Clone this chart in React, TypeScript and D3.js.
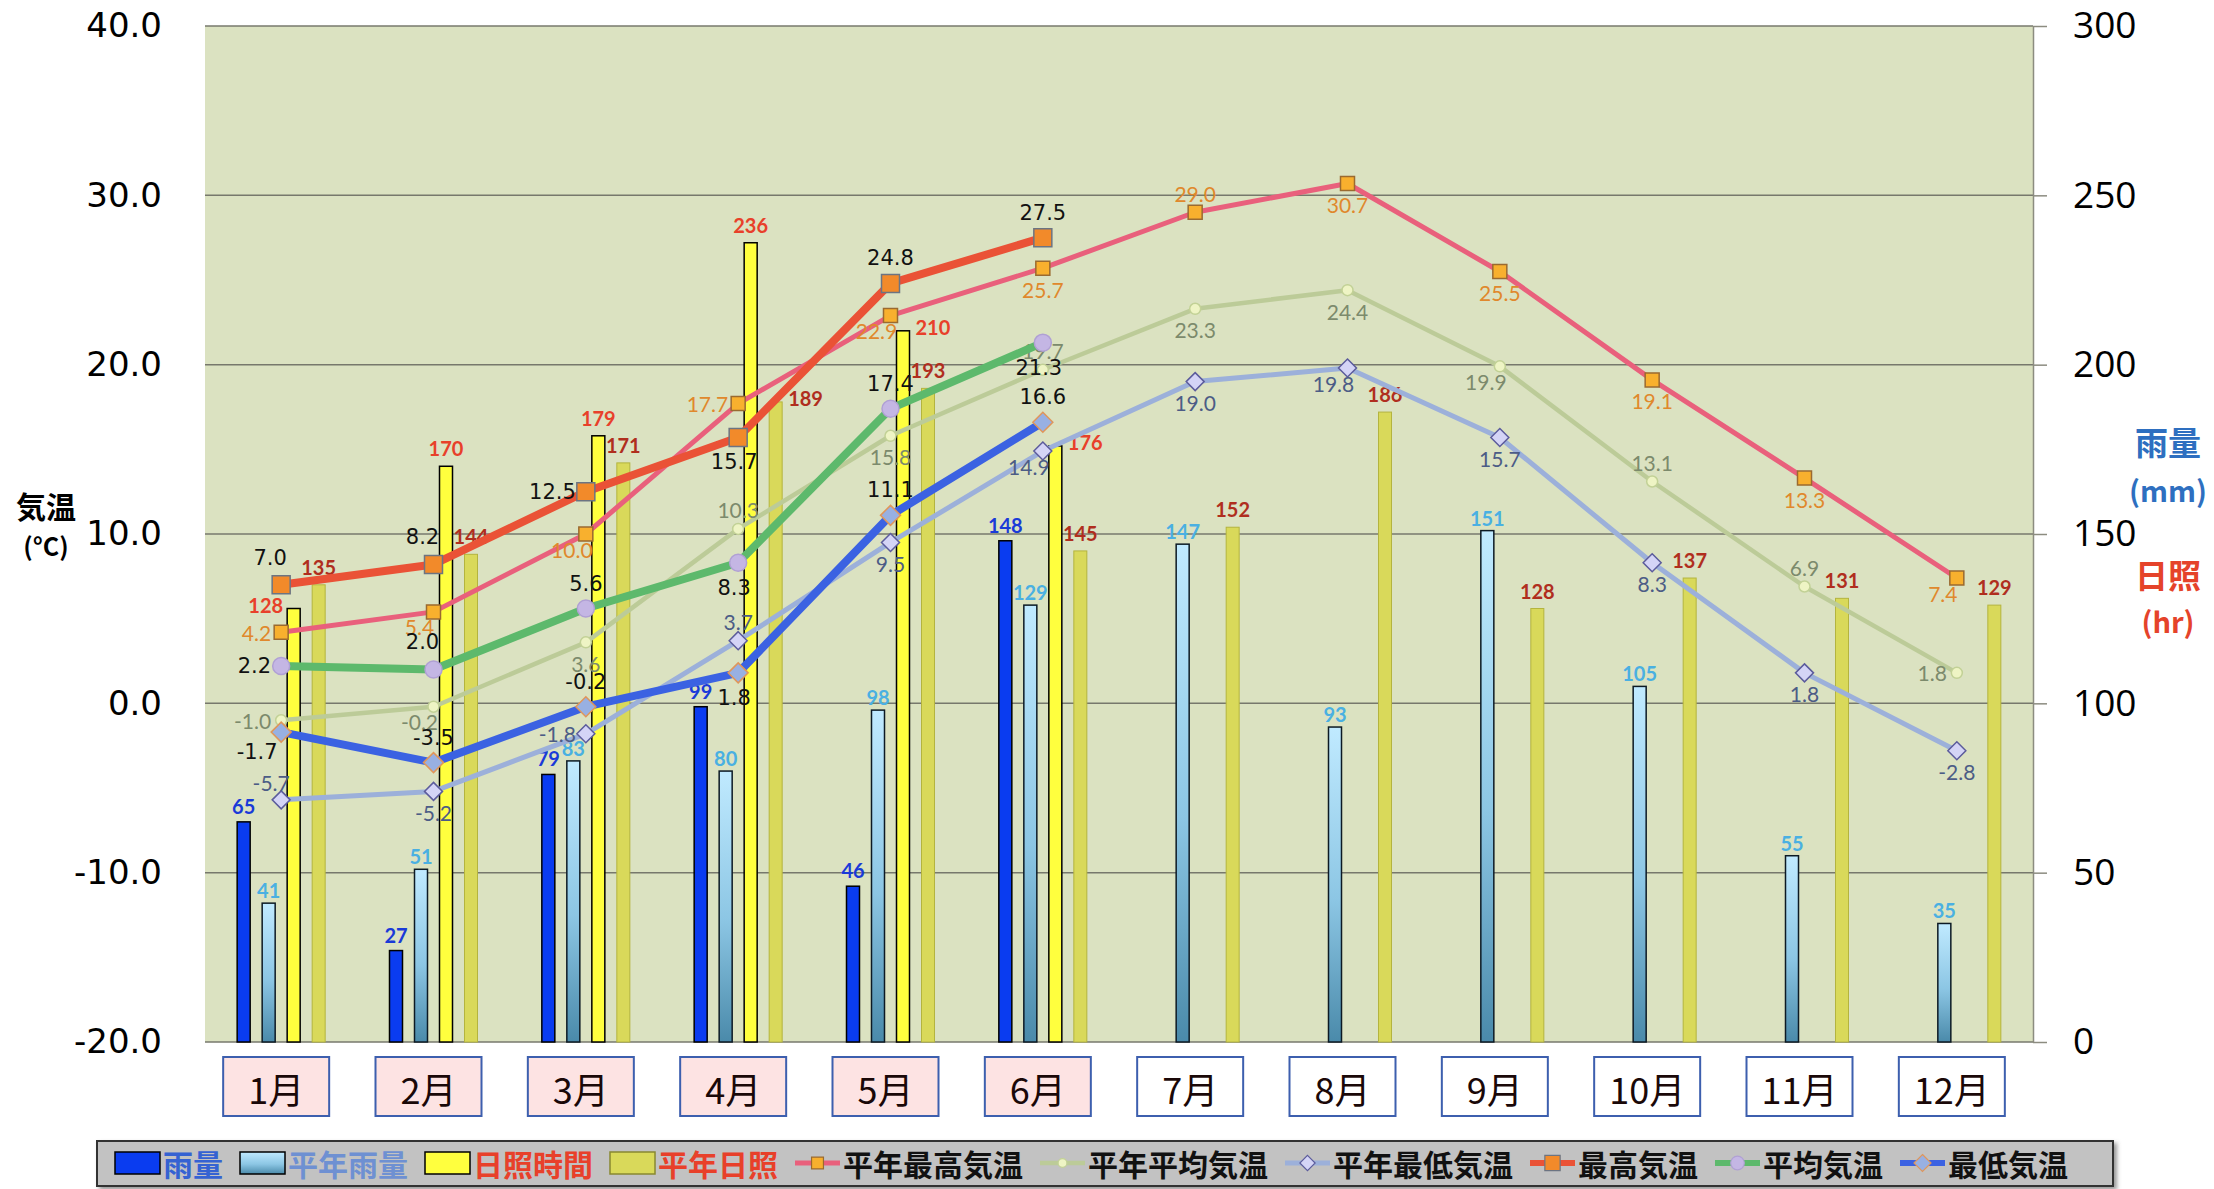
import { useEffect, useRef } from "react";
import * as d3 from "d3";

// ---- data ----
const months = ["1月", "2月", "3月", "4月", "5月", "6月", "7月", "8月", "9月", "10月", "11月", "12月"];

const rain = [65, 27, 79, 99, 46, 148];
const rainNormal = [41, 51, 83, 80, 98, 129, 147, 93, 151, 105, 55, 35];
const sun = [128, 170, 179, 236, 210, 176];
const sunNormal = [135, 144, 171, 189, 193, 145, 152, 186, 128, 137, 131, 129];

const highNormal = [4.2, 5.4, 10.0, 17.7, 22.9, 25.7, 29.0, 30.7, 25.5, 19.1, 13.3, 7.4];
const meanNormal = [-1.0, -0.2, 3.6, 10.3, 15.8, 19.7, 23.3, 24.4, 19.9, 13.1, 6.9, 1.8];
const lowNormal = [-5.7, -5.2, -1.8, 3.7, 9.5, 14.9, 19.0, 19.8, 15.7, 8.3, 1.8, -2.8];
const high = [7.0, 8.2, 12.5, 15.7, 24.8, 27.5];
const mean = [2.2, 2.0, 5.6, 8.3, 17.4, 21.3];
const low = [-1.7, -3.5, -0.2, 1.8, 11.1, 16.6];

const tempTicks = [-20, -10, 0, 10, 20, 30, 40];
const amountTicks = [0, 50, 100, 150, 200, 250, 300];

// where each value label sits relative to its point
const highNormalPos = ["l", "bl", "bl", "l", "bl", "b", "t", "b", "b", "b", "b", "bl"];
const meanNormalPos = ["l", "bl", "b", "t", "b", "t", "b", "b", "bl", "t", "t", "l"];
const lowNormalPos = ["tl", "b", "l", "t", "b", "bl", "b", "bl", "b", "b", "b", "b"];
const highPos = ["tl", "tl", "l", "b", "t", "t"];
const meanPos = ["l", "tl", "t", "b", "t", "b"];
const lowPos = ["bl", "t", "t", "b", "t", "t"];
const sunPos = ["l", "t", "t", "t", "r", "r"];
const sunNormalPos = ["t", "t", "t", "r", "t", "t", "t", "t", "t", "t", "t", "t"];

const W = 2214;
const H = 1189;

type Marker = "square" | "circle" | "diamond";

const markerPath = (shape: Marker, s: number) => {
  if (shape === "square") return `M${-s},${-s}H${s}V${s}H${-s}Z`;
  if (shape === "diamond") return `M0,${-s}L${s},0L0,${s}L${-s},0Z`;
  return d3.arc()({ innerRadius: 0, outerRadius: s, startAngle: 0, endAngle: Math.PI * 2 }) as string;
};

// label offsets [dx, dy] for small coloured labels and bigger black ones
const offColour: Record<string, number[]> = { t: [0, -19], b: [0, 21], l: [-10, 0], r: [12, 0], tl: [-10, -17], bl: [-14, 15] };
const offBlack: Record<string, number[]> = { t: [0, -25], b: [-4, 25], l: [-10, 0], r: [12, 0], tl: [-11, -27], bl: [-24, 20] };

const lineSeries = [
  { key: "highNormal", name: "平年最高気温", data: highNormal, pos: highNormalPos, color: "#e9607c", width: 5, shape: "square" as Marker, size: 7, fill: "#f8b02e", stroke: "#9a6a30", label: "#e0882c", font: "Lato", fs: 21, black: false },
  { key: "meanNormal", name: "平年平均気温", data: meanNormal, pos: meanNormalPos, color: "#bccb98", width: 4.5, shape: "circle" as Marker, size: 5.5, fill: "#eef4c4", stroke: "#c2d196", label: "#7c8a6c", font: "Lato", fs: 21, black: false },
  { key: "lowNormal", name: "平年最低気温", data: lowNormal, pos: lowNormalPos, color: "#9cb0da", width: 5, shape: "diamond" as Marker, size: 9, fill: "#d4d4f6", stroke: "#5c5c9c", label: "#4c5c86", font: "Lato", fs: 21, black: false },
  { key: "high", name: "最高気温", data: high, pos: highPos, color: "#ea5236", width: 8, shape: "square" as Marker, size: 9, fill: "#f28a2a", stroke: "#6c7482", label: "#111", font: "DejaVu Sans", fs: 21, black: true },
  { key: "mean", name: "平均気温", data: mean, pos: meanPos, color: "#5db96c", width: 8, shape: "circle" as Marker, size: 8.5, fill: "#c4b6e4", stroke: "#b0a0d4", label: "#111", font: "DejaVu Sans", fs: 21, black: true },
  { key: "low", name: "最低気温", data: low, pos: lowPos, color: "#3b62e2", width: 8, shape: "diamond" as Marker, size: 10, fill: "#98b0e2", stroke: "#e0965a", label: "#111", font: "DejaVu Sans", fs: 21, black: true },
];

const App = () => {
  const svgRef = useRef<SVGSVGElement>(null);

  useEffect(() => {
    const svg = d3.select(svgRef.current);
    svg.selectAll("*").remove();

    const plot = { left: 205, right: 2033, top: 26, bottom: 1042 };

    const x = d3.scaleBand<string>().domain(months).range([plot.left, plot.right]);
    const cx = (i: number) => (x(months[i]) as number) + x.bandwidth() / 2;
    const yT = d3.scaleLinear().domain([-20, 40]).range([plot.bottom, plot.top]);
    const yA = d3.scaleLinear().domain([0, 300]).range([plot.bottom, plot.top]);
    const xBar = d3.scaleBand<string>()
      .domain(["rain", "rainNormal", "sun", "sunNormal"])
      .range([-50, 50])
      .paddingInner(0.48)
      .paddingOuter(0.24);

    const defs = svg.append("defs");
    const grad = defs.append("linearGradient").attr("id", "rainNormalGrad")
      .attr("x1", 0).attr("y1", 0).attr("x2", 0).attr("y2", 1);
    grad.append("stop").attr("offset", "0%").attr("stop-color", "#c0eaff");
    grad.append("stop").attr("offset", "55%").attr("stop-color", "#8cc6e4");
    grad.append("stop").attr("offset", "100%").attr("stop-color", "#4a8aaa");
    const shadow = defs.append("filter").attr("id", "legendShadow");
    shadow.append("feDropShadow").attr("dx", 3).attr("dy", 3).attr("stdDeviation", 2).attr("flood-color", "#555").attr("flood-opacity", 0.6);

    // plot background
    svg.append("rect")
      .attr("x", plot.left).attr("y", plot.top)
      .attr("width", plot.right - plot.left).attr("height", plot.bottom - plot.top)
      .attr("fill", "#dbe2c1");

    // grid lines
    svg.append("g").selectAll("line").data(tempTicks).enter().append("line")
      .attr("x1", plot.left).attr("x2", plot.right)
      .attr("y1", (d) => yT(d)).attr("y2", (d) => yT(d))
      .attr("stroke", "#77786c").attr("stroke-width", 1.5);

    // left axis (temperature)
    const left = svg.append("g")
      .attr("transform", `translate(${plot.left},0)`)
      .call(d3.axisLeft(yT).tickValues(tempTicks).tickSize(0).tickPadding(43).tickFormat((d: any) => (+d).toFixed(1)));
    left.select(".domain").remove();
    left.selectAll("text")
      .style("font-family", "DejaVu Sans")
      .style("font-size", "34px")
      .attr("fill", "#000");

    // right axis (mm / hr)
    const right = svg.append("g")
      .attr("transform", `translate(${plot.right},0)`)
      .call(d3.axisRight(yA).tickValues(amountTicks).tickSize(14).tickSizeOuter(0).tickPadding(26));
    right.select(".domain").attr("stroke", "#8c8c80").attr("stroke-width", 1.5);
    right.selectAll(".tick line").attr("stroke", "#8c8c80").attr("stroke-width", 1.5);
    right.selectAll("text")
      .style("font-family", "Open Sans")
      .style("font-size", "37px")
      .attr("fill", "#000");

    // axis titles
    const titleL = svg.append("g").style("font-family", "Noto Sans CJK JP").style("font-weight", 700).attr("text-anchor", "middle");
    titleL.append("text").attr("x", 46).attr("y", 505).attr("dominant-baseline", "central").style("font-size", "30px").text("気温");
    titleL.append("text").attr("x", 46).attr("y", 545).attr("dominant-baseline", "central").style("font-size", "25px").text("(°C)");

    const titleR = svg.append("g").style("font-family", "Noto Sans CJK JP").style("font-weight", 700).attr("text-anchor", "middle");
    titleR.append("text").attr("x", 2168).attr("y", 441).attr("dominant-baseline", "central").style("font-size", "33px").attr("fill", "#2e6fc0").text("雨量");
    titleR.append("text").attr("x", 2168).attr("y", 489).attr("dominant-baseline", "central").style("font-size", "29px").attr("fill", "#2e6fc0").text("(mm)");
    titleR.append("text").attr("x", 2168).attr("y", 574).attr("dominant-baseline", "central").style("font-size", "33px").attr("fill", "#e5432a").text("日照");
    titleR.append("text").attr("x", 2168).attr("y", 620).attr("dominant-baseline", "central").style("font-size", "29px").attr("fill", "#e5432a").text("(hr)");

    // bars
    const barSeries = [
      { key: "rain", data: rain, fill: "#0a3cf0", stroke: "#000", sw: 1.5, label: "#1a3ad8", pos: rain.map(() => "t"), gap: 16 },
      { key: "rainNormal", data: rainNormal, fill: "url(#rainNormalGrad)", stroke: "#0c1a24", sw: 1.5, label: "#4ab0e2", pos: rainNormal.map(() => "t"), gap: 13 },
      { key: "sun", data: sun, fill: "#ffff3e", stroke: "#000", sw: 1.5, label: "#e8402a", pos: sunPos, gap: 18 },
      { key: "sunNormal", data: sunNormal, fill: "#d9d95a", stroke: "#b4b43e", sw: 1, label: "#b02e1e", pos: sunNormalPos, gap: 18 },
    ];

    const barG = svg.append("g");
    barSeries.forEach((s) => {
      const bx = (i: number) => cx(i) + (xBar(s.key) as number);
      barG.append("g").selectAll("rect").data(s.data).enter().append("rect")
        .attr("x", (_, i) => bx(i))
        .attr("y", (d) => yA(d))
        .attr("width", xBar.bandwidth())
        .attr("height", (d) => yA(0) - yA(d))
        .attr("fill", s.fill)
        .attr("stroke", s.stroke)
        .attr("stroke-width", s.sw);

      barG.append("g").selectAll("text").data(s.data).enter().append("text")
        .attr("x", (_, i) => {
          const p = s.pos[i];
          const mid = bx(i) + xBar.bandwidth() / 2;
          if (p === "l") return bx(i) - 4;
          if (p === "r") return bx(i) + xBar.bandwidth() + 6;
          return mid;
        })
        .attr("y", (d, i) => {
          const p = s.pos[i];
          if (p === "l" || p === "r") return yA(d) - 4;
          return yA(d) - s.gap;
        })
        .attr("text-anchor", (_, i) => {
          const p = s.pos[i];
          if (p === "l") return "end";
          if (p === "r") return "start";
          return "middle";
        })
        .attr("dominant-baseline", "central")
        .style("font-family", "Lato")
        .style("font-weight", 700)
        .style("font-size", "20px")
        .attr("fill", s.label)
        .text((d) => d);
    });

    // temperature lines
    const lineG = svg.append("g");
    lineSeries.forEach((s) => {
      const line = d3.line<number>().x((_, i) => cx(i)).y((d) => yT(d));
      lineG.append("path")
        .attr("d", line(s.data))
        .attr("fill", "none")
        .attr("stroke", s.color)
        .attr("stroke-width", s.width)
        .attr("stroke-linejoin", "round")
        .attr("stroke-linecap", "round");

      lineG.append("g").selectAll("path").data(s.data).enter().append("path")
        .attr("transform", (d, i) => `translate(${cx(i)},${yT(d)})`)
        .attr("d", markerPath(s.shape, s.size))
        .attr("fill", s.fill)
        .attr("stroke", s.stroke)
        .attr("stroke-width", 1.5);

      const off = s.black ? offBlack : offColour;
      lineG.append("g").selectAll("text").data(s.data).enter().append("text")
        .attr("x", (_, i) => cx(i) + off[s.pos[i]][0])
        .attr("y", (d, i) => yT(d) + off[s.pos[i]][1])
        .attr("text-anchor", (_, i) => {
          const p = s.pos[i];
          if (p === "l") return "end";
          if (p === "r") return "start";
          return "middle";
        })
        .attr("dominant-baseline", "central")
        .style("font-family", s.font)
        .style("font-size", `${s.fs}px`)
        .attr("fill", s.label)
        .text((d) => d.toFixed(1));
    });

    // month boxes
    const monthG = svg.append("g").selectAll("g").data(months).enter().append("g")
      .attr("transform", (_, i) => `translate(${cx(i) - 5},1086)`);
    monthG.append("rect")
      .attr("x", -53).attr("y", -29).attr("width", 106).attr("height", 59)
      .attr("fill", (_, i) => (i < 6 ? "#fde3e3" : "#ffffff"))
      .attr("stroke", "#3d5fae").attr("stroke-width", 2);
    monthG.append("text")
      .attr("text-anchor", "middle")
      .attr("dominant-baseline", "central")
      .attr("y", 2)
      .style("font-family", "Noto Sans CJK JP")
      .style("font-size", "36px")
      .attr("fill", "#1a0808")
      .text((d) => d);

    // legend
    const legend = svg.append("g");
    legend.append("rect")
      .attr("x", 97).attr("y", 1141).attr("width", 2016).attr("height", 45)
      .attr("fill", "#c2c2c2").attr("stroke", "#333").attr("stroke-width", 2)
      .attr("filter", "url(#legendShadow)");

    const items = [
      { name: "雨量", color: "#3562d2", kind: "bar", fill: "#0a3cf0", stroke: "#000" },
      { name: "平年雨量", color: "#6e90d2", kind: "bar", fill: "url(#rainNormalGrad)", stroke: "#000" },
      { name: "日照時間", color: "#e8402a", kind: "bar", fill: "#ffff3e", stroke: "#000" },
      { name: "平年日照", color: "#e8402a", kind: "bar", fill: "#d9d95a", stroke: "#888830" },
      ...lineSeries.map((s) => ({ name: s.name, color: "#111", kind: s.key, fill: "", stroke: "" })),
    ];
    const swatchW = 45;
    const startX = 115;
    const endX = 2068;
    const ly = 1163;
    const groups = items.map((it) => {
      const g = legend.append("g");
      if (it.kind === "bar") {
        g.append("rect").attr("x", 0).attr("y", ly - 11).attr("width", swatchW).attr("height", 22)
          .attr("fill", it.fill).attr("stroke", it.stroke).attr("stroke-width", 1.5);
      } else {
        const s = lineSeries.find((l) => l.key === it.kind)!;
        g.append("line").attr("x1", 0).attr("x2", swatchW).attr("y1", ly).attr("y2", ly)
          .attr("stroke", s.color).attr("stroke-width", Math.min(s.width, 6));
        g.append("path").attr("transform", `translate(${swatchW / 2},${ly})`)
          .attr("d", markerPath(s.shape, s.shape === "circle" ? s.size * 0.8 : s.size * 0.85))
          .attr("fill", s.fill).attr("stroke", s.stroke).attr("stroke-width", 1.2);
      }
      const t = g.append("text").attr("x", swatchW + 3).attr("y", ly)
        .attr("dominant-baseline", "central")
        .style("font-family", "Noto Sans CJK JP")
        .style("font-weight", 700)
        .style("font-size", "30px")
        .attr("fill", it.color)
        .text(it.name);
      const w = swatchW + 3 + ((t.node() as SVGTextElement).getComputedTextLength() || it.name.length * 30);
      return { g, w };
    });
    const total = d3.sum(groups, (d) => d.w);
    const gap = (endX - startX - total) / (groups.length - 1);
    let cursor = startX;
    groups.forEach((d) => {
      d.g.attr("transform", `translate(${cursor},0)`);
      cursor += d.w + gap;
    });
  }, []);

  return (
    <svg
      ref={svgRef}
      width={W}
      height={H}
      style={{ position: "absolute", left: 0, top: 0, display: "block", background: "#fff" }}
    ></svg>
  );
};

export default App;
